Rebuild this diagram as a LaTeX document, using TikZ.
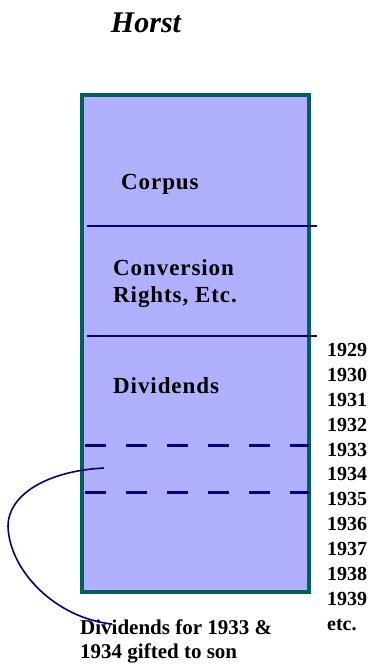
\documentclass[tikz,border=0pt]{standalone}
\usepackage{fontspec}
\setmainfont{Liberation Serif}
\definecolor{boxfill}{RGB}{176,176,255}
\definecolor{boxedge}{RGB}{0,96,90}
\definecolor{navy}{RGB}{0,0,128}
\begin{document}
\begin{tikzpicture}[x=1pt,y=-1pt,
  mainbox/.style={draw=boxedge,fill=boxfill,line width=3.2pt,inner sep=0,outer sep=0,
    minimum width=227pt,minimum height=497pt},
  solidsep/.style={draw=navy,line width=2.6pt},
  dashsep/.style={draw=navy,line width=3pt,dash pattern=on 21pt off 20pt},
  curveline/.style={draw=navy,line width=1.6pt},
  lbl/.style={font=\fontsize{23}{27}\selectfont\bfseries\addfontfeature{LetterSpace=4},
    anchor=west,align=left,inner sep=0},
  yrs/.style={font=\fontsize{20}{24.9}\selectfont\bfseries,anchor=north west,align=left,inner sep=0},
  note/.style={font=\fontsize{21}{24}\selectfont\bfseries,anchor=north west,align=left,inner sep=0}]
\useasboundingbox (0,0) rectangle (370,666);
\fill[white] (0,0) rectangle (370,666);
\node[font=\fontsize{30}{34}\selectfont\bfseries\itshape] (title) at (146,23) {Horst};
\node[mainbox] (box) at (195.5,343.5) {};
\coordinate (s1a) at (87,226); \coordinate (s1b) at (317,226);
\coordinate (s2a) at (87,336); \coordinate (s2b) at (317,336);
\coordinate (d1a) at (85,445); \coordinate (d1b) at (309,445);
\coordinate (d2a) at (85,492); \coordinate (d2b) at (309,492);
\draw[solidsep] (s1a) -- (s1b);
\draw[solidsep] (s2a) -- (s2b);
\draw[dashsep] (d1a) -- (d1b);
\draw[dashsep] (d2a) -- (d2b);
\node[lbl] (corpus) at (121,184) {Corpus};
\node[lbl] (conv) at (113,284) {Conversion\\Rights, Etc.};
\node[lbl] (div) at (113,386) {Dividends};
\node[yrs] (years) at (327,343) {1929\\1930\\1931\\1932\\1933\\1934\\1935\\1936\\1937\\1938\\1939\\etc.};
\node[note] (gift) at (80,620) {Dividends for 1933 \&\\1934 gifted to son};
\coordinate (cstart) at (104,468);
\coordinate (cmid) at (8,526);
\coordinate (cend) at (112,624);
\draw[curveline] (cstart) .. controls (45,471) and (8,496) .. (cmid)
  .. controls (9,570) and (55,618) .. (cend);
\end{tikzpicture}
\end{document}
